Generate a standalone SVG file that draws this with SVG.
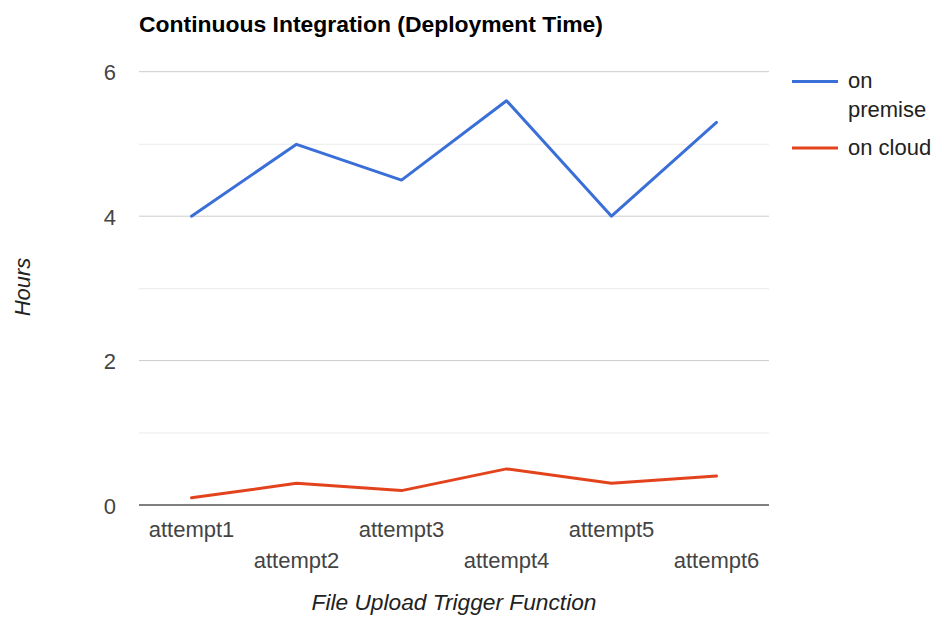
<svg xmlns="http://www.w3.org/2000/svg" width="940" height="624" viewBox="0 0 940 624">
<style>
text{font-family:"Liberation Sans",Arial,sans-serif;font-size:22px}
.tick{fill:#444}
.title{font-weight:bold;fill:#000}
.axt{font-style:italic;fill:#222}
.leg{fill:#222}
.gmaj{stroke:#cccccc;stroke-width:1}
.gmin{stroke:#ebebeb;stroke-width:1}
.ser{fill:none;stroke-width:3;stroke-linejoin:round;stroke-linecap:round}
.blue{stroke:#3a6fd8}
.red{stroke:#e3431c}
</style>
<rect width="940" height="624" fill="#fff"/>
<text id="title" class="title" x="139" y="32" textLength="464" lengthAdjust="spacingAndGlyphs">Continuous Integration (Deployment Time)</text>
<g id="grid">
<line class="gmin" x1="139" y1="144.3" x2="769" y2="144.3"/>
<line class="gmin" x1="139" y1="288.7" x2="769" y2="288.7"/>
<line class="gmin" x1="139" y1="433" x2="769" y2="433"/>
<line class="gmaj" x1="139" y1="71.7" x2="769" y2="71.7"/>
<line class="gmaj" x1="139" y1="216.2" x2="769" y2="216.2"/>
<line class="gmaj" x1="139" y1="360.6" x2="769" y2="360.6"/>
<line x1="139" y1="505" x2="769" y2="505" stroke="#555" stroke-width="1.5"/>
</g>
<g id="y-ticks" class="tick" text-anchor="end">
<text class="tick" x="116" y="80">6</text>
<text class="tick" x="116" y="224.5">4</text>
<text class="tick" x="116" y="369">2</text>
<text class="tick" x="116" y="513.5">0</text>
</g>
<text id="y-title" class="axt" transform="translate(30,287) rotate(-90)" text-anchor="middle">Hours</text>
<g id="x-ticks" text-anchor="middle">
<text class="tick" x="191.5" y="537">attempt1</text>
<text class="tick" x="296.5" y="568">attempt2</text>
<text class="tick" x="401.5" y="537">attempt3</text>
<text class="tick" x="506.5" y="568">attempt4</text>
<text class="tick" x="611.5" y="537">attempt5</text>
<text class="tick" x="716.5" y="568">attempt6</text>
</g>
<text id="x-title" class="axt" x="311.5" y="610" textLength="285" lengthAdjust="spacingAndGlyphs">File Upload Trigger Function</text>
<g id="series-on-premise">
<polyline class="ser blue" points="191.5,216.2 296.5,144.3 401.5,180.1 506.5,100.7 611.5,216.2 716.5,122.4"/>
</g>
<g id="series-on-cloud">
<polyline class="ser red" points="191.5,497.8 296.5,483.3 401.5,490.6 506.5,468.9 611.5,483.3 716.5,476.1"/>
</g>
<g id="legend">
<line class="blue" x1="792" y1="81.5" x2="838" y2="81.5" stroke-width="3"/>
<text class="leg" x="848" y="88">on</text>
<text class="leg" x="848" y="117">premise</text>
<line class="red" x1="792" y1="148" x2="838" y2="148" stroke-width="3"/>
<text class="leg" x="848" y="155">on cloud</text>
</g>
</svg>
